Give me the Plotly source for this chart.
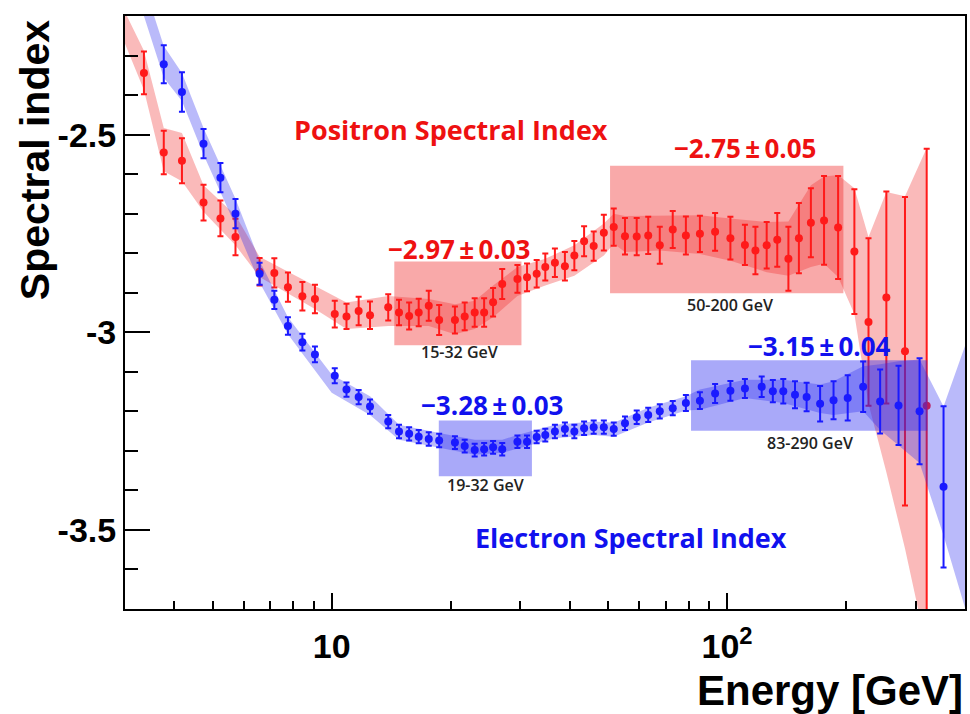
import numpy as np
import plotly.graph_objects as go

# ---------------- positron spectral index ----------------
pos_E = [3.35, 3.76, 4.18, 4.74, 5.23, 5.71, 6.57, 7.16, 7.75, 8.43, 9.07, 10.18,
         10.9, 11.7, 12.5, 13.9, 14.8, 15.7, 16.6, 17.6, 18.7, 20.5, 21.7, 23.0,
         24.3, 25.6, 27.0, 29.5, 31.2, 33.0, 34.7, 36.7, 38.9, 41.1, 43.5, 46.0,
         48.8, 51.7, 55.2, 59.1, 63.2, 67.6, 72.9, 78.7, 85.4, 93.3, 102, 111,
         118, 126, 134, 143, 152, 163, 176, 191, 210, 228, 253, 282, 320]
pos_idx = [-2.344, -2.545, -2.566, -2.672, -2.712, -2.759, -2.847, -2.850, -2.886,
           -2.909, -2.916, -2.954, -2.960, -2.946, -2.957, -2.937, -2.950, -2.959,
           -2.950, -2.933, -2.969, -2.969, -2.960, -2.950, -2.950, -2.924, -2.878,
           -2.865, -2.861, -2.852, -2.835, -2.824, -2.833, -2.806, -2.770, -2.782,
           -2.748, -2.734, -2.757, -2.758, -2.755, -2.780, -2.740, -2.755, -2.751,
           -2.746, -2.762, -2.779, -2.793, -2.780, -2.766, -2.814, -2.762, -2.723,
           -2.717, -2.735, -2.796, -2.974, -2.912, -3.048, -3.186]
pos_err = [0.054, 0.055, 0.057, 0.045, 0.045, 0.046, 0.035, 0.037, 0.037, 0.036,
           0.036, 0.034, 0.032, 0.036, 0.035, 0.033, 0.032, 0.034, 0.035, 0.038,
           0.038, 0.034, 0.035, 0.036, 0.036, 0.036, 0.038, 0.035, 0.035, 0.035,
           0.034, 0.036, 0.036, 0.037, 0.038, 0.037, 0.045, 0.047, 0.046, 0.047,
           0.047, 0.047, 0.047, 0.048, 0.046, 0.048, 0.054, 0.051, 0.060, 0.059,
           0.068, 0.081, 0.089, 0.087, 0.112, 0.130, 0.158, 0.212, 0.268, 0.390,
           0.650]

# uncertainty band of the positron index
pos_band_E = [3.0, 3.35, 3.76, 4.18, 4.74, 5.71, 6.57, 9.07, 10.9, 13.9, 17.6, 20.5,
              23.0, 25.6, 29.5, 34.7, 41.1, 48.8, 51.7, 55.2, 67.6, 85.4, 102, 126,
              143, 163, 176, 191, 210, 228, 253, 282, 320]
pos_band_lo = [-2.27, -2.387, -2.593, -2.618, -2.695, -2.780, -2.860, -2.941, -2.992,
               -2.984, -2.984, -3.005, -2.992, -2.962, -2.908, -2.882, -2.857, -2.806,
               -2.776, -2.797, -2.793, -2.802, -2.819, -2.848, -2.857, -2.835, -2.827,
               -2.860, -2.954, -3.181, -3.354, -3.547, -3.800]
pos_band_hi = [-2.19, -2.288, -2.483, -2.496, -2.628, -2.704, -2.809, -2.882, -2.925,
               -2.908, -2.916, -2.929, -2.920, -2.882, -2.835, -2.814, -2.780, -2.725,
               -2.700, -2.706, -2.705, -2.704, -2.712, -2.721, -2.720, -2.628, -2.606,
               -2.602, -2.636, -2.759, -2.645, -2.656, -2.534]

# ---------------- electron spectral index ----------------
ele_E = [3.76, 4.18, 4.74, 5.23, 5.71, 6.57, 7.16, 7.75, 8.43, 9.07, 10.18, 10.9,
         11.7, 12.5, 13.9, 14.8, 15.7, 16.6, 17.6, 18.7, 20.5, 21.7, 23.0, 24.3,
         25.6, 27.0, 29.5, 31.2, 33.0, 34.7, 36.7, 38.9, 41.1, 43.5, 46.0, 48.8,
         51.7, 55.2, 59.1, 63.2, 67.6, 72.9, 78.7, 85.4, 93.3, 102, 111, 122.4,
         130.6, 138.8, 148.6, 159, 172, 186, 202, 221, 244, 271.6, 307, 353]
ele_idx = [-2.322, -2.392, -2.523, -2.609, -2.700, -2.852, -2.918, -2.984, -3.025,
           -3.056, -3.110, -3.145, -3.164, -3.188, -3.226, -3.251, -3.257, -3.264,
           -3.270, -3.274, -3.279, -3.288, -3.298, -3.296, -3.291, -3.296, -3.277,
           -3.277, -3.265, -3.260, -3.251, -3.245, -3.251, -3.243, -3.240, -3.240,
           -3.245, -3.230, -3.215, -3.209, -3.200, -3.192, -3.179, -3.173, -3.155,
           -3.148, -3.142, -3.138, -3.149, -3.149, -3.158, -3.164, -3.181, -3.172,
           -3.166, -3.138, -3.175, -3.185, -3.200, -3.391]
ele_err = [0.048, 0.050, 0.037, 0.037, 0.037, 0.028, 0.023, 0.022, 0.021, 0.020,
           0.019, 0.018, 0.018, 0.018, 0.017, 0.017, 0.017, 0.017, 0.017, 0.017,
           0.016, 0.016, 0.016, 0.016, 0.016, 0.016, 0.016, 0.016, 0.016, 0.016,
           0.017, 0.017, 0.017, 0.017, 0.017, 0.017, 0.017, 0.017, 0.017, 0.018,
           0.018, 0.018, 0.020, 0.021, 0.024, 0.025, 0.024, 0.026, 0.028, 0.031,
           0.034, 0.036, 0.045, 0.048, 0.057, 0.064, 0.081, 0.100, 0.134, 0.204]

# uncertainty band of the electron index
ele_band_E = [3.35, 3.76, 4.18, 4.74, 5.71, 6.57, 7.75, 10.0, 12.5, 14.8, 18.7, 23.0,
              27.0, 29.5, 36.7, 46.0, 51.7, 63.2, 78.7, 85.4, 111, 138.8, 172, 186,
              221, 244, 271.6, 307, 353, 400]
ele_band_lo = [-2.20, -2.356, -2.415, -2.551, -2.730, -2.874, -3.005, -3.153, -3.209,
               -3.272, -3.293, -3.310, -3.305, -3.293, -3.268, -3.260, -3.264, -3.228,
               -3.198, -3.196, -3.166, -3.179, -3.204, -3.209, -3.200, -3.247, -3.285,
               -3.331, -3.514, -3.697]
ele_band_hi = [-2.12, -2.276, -2.344, -2.483, -2.662, -2.819, -2.962, -3.107, -3.162,
               -3.234, -3.255, -3.272, -3.272, -3.260, -3.234, -3.226, -3.229, -3.191,
               -3.162, -3.145, -3.120, -3.120, -3.132, -3.124, -3.086, -3.081, -3.073,
               -3.069, -3.188, -3.035]

# fitted energy ranges: (E_lo, E_hi, index_lo, index_hi)
pos_boxes = [(14.4, 30.2, -3.033, -2.821), (50.6, 197.0, -2.9015, -2.579)]
ele_boxes = [(18.66, 32.1, -3.364, -3.223), (81.1, 321.0, -3.249, -3.071)]

# fit results and range labels: (text, E, index)
pos_fit_labels = [("\u22122.97\u2009\u00b1\u20090.03", 21.0, -2.789),
                  ("\u22122.75\u2009\u00b1\u20090.05", 110.9, -2.534)]
ele_fit_labels = [("\u22123.28\u2009\u00b1\u20090.03", 25.5, -3.183),
                  ("\u22123.15\u2009\u00b1\u20090.04", 171.3, -3.034)]
range_labels = [("15-32 GeV", 21.0, -3.051), ("50-200 GeV", 102.0, -2.931),
                ("19-32 GeV", 24.5, -3.387), ("83-290 GeV", 161.8, -3.281)]

RED = "#ff1a1a"
BLUE = "#1a1aff"

fig = go.Figure()


def add_series(E, idx, err, bE, blo, bhi, boxes, color, band_rgba, box_rgba):
    # shaded band
    fig.add_trace(go.Scatter(
        x=list(bE) + list(bE)[::-1], y=list(bhi) + list(blo)[::-1],
        mode="lines", fill="toself", fillcolor=band_rgba,
        line=dict(width=0), hoverinfo="skip"))
    # fit-range boxes
    for e0, e1, y0, y1 in boxes:
        fig.add_trace(go.Scatter(
            x=[e0, e1, e1, e0, e0], y=[y0, y0, y1, y1, y0],
            mode="lines", fill="toself", fillcolor=box_rgba,
            line=dict(width=0), hoverinfo="skip"))
    # measured points
    fig.add_trace(go.Scatter(
        x=E, y=idx, mode="markers",
        marker=dict(color=color, size=8),
        error_y=dict(type="data", array=err, color=color, thickness=2, width=3)))


add_series(pos_E, pos_idx, pos_err, pos_band_E, pos_band_lo, pos_band_hi,
           pos_boxes, RED, "rgba(240,40,40,0.32)", "rgba(240,40,40,0.40)")
add_series(ele_E, ele_idx, ele_err, ele_band_E, ele_band_lo, ele_band_hi,
           ele_boxes, BLUE, "rgba(40,40,240,0.32)", "rgba(40,40,240,0.40)")

label_font = "Open Sans"
ann = []
ann.append(dict(x=np.log10(20.0), y=-2.486, xref="x", yref="y",
                text="Positron Spectral Index", showarrow=False,
                font=dict(family=label_font, size=27, color="#ee1111", weight="bold")))
ann.append(dict(x=np.log10(57.3), y=-3.519, xref="x", yref="y",
                text="Electron Spectral Index", showarrow=False,
                font=dict(family=label_font, size=27, color="#1111ee", weight="bold")))
for t, e, v in pos_fit_labels:
    ann.append(dict(x=np.log10(e), y=v, xref="x", yref="y", text=t, showarrow=False,
                    font=dict(family=label_font, size=26, color="#ee1111", weight="bold")))
for t, e, v in ele_fit_labels:
    ann.append(dict(x=np.log10(e), y=v, xref="x", yref="y", text=t, showarrow=False,
                    font=dict(family=label_font, size=26, color="#1111ee", weight="bold")))
for t, e, v in range_labels:
    ann.append(dict(x=np.log10(e), y=v, xref="x", yref="y", text=t, showarrow=False,
                    font=dict(family=label_font, size=16, color="#222222", weight=600)))

# axis titles
ann.append(dict(x=-0.107, y=0.757, xref="paper", yref="paper", text="Spectral index",
                textangle=-90, showarrow=False, xanchor="center", yanchor="middle",
                font=dict(family="Liberation Sans", size=41, color="black", weight="bold")))
ann.append(dict(x=1.0, y=-0.137, xref="paper", yref="paper", text="Energy [GeV]",
                showarrow=False, xanchor="right", yanchor="middle",
                font=dict(family="Liberation Sans", size=42, color="black", weight="bold")))

x_minor = [4, 5, 6, 7, 8, 9, 20, 30, 40, 50, 60, 70, 80, 90, 200, 300, 400]
y_minor = [-3.6, -3.4, -3.3, -3.2, -3.1, -2.9, -2.8, -2.7, -2.6, -2.4, -2.3, -2.2]

fig.update_layout(
    width=970, height=714,
    margin=dict(l=125, r=5, t=16, b=105),
    plot_bgcolor="white", paper_bgcolor="white",
    showlegend=False,
    annotations=ann,
    xaxis=dict(
        type="log", range=[np.log10(3), np.log10(400)],
        tickmode="array", tickvals=[10, 100], ticktext=["10", "10<sup>2</sup>"],
        ticks="inside", ticklen=16, tickwidth=1.5, tickcolor="black",
        showline=True, linewidth=2, linecolor="black", mirror=True,
        showgrid=False, zeroline=False, automargin=False,
        ticklabelstandoff=6,
        tickfont=dict(family="Liberation Sans", size=34, color="black", weight="bold"),
        minor=dict(tickmode="array", tickvals=x_minor, ticks="inside", ticklen=8,
                   tickwidth=1.5, tickcolor="black", showgrid=False),
    ),
    yaxis=dict(
        range=[-3.7, -2.2],
        tickmode="array", tickvals=[-3.5, -3.0, -2.5], ticktext=["-3.5", "-3", "-2.5"],
        ticks="inside", ticklen=25, tickwidth=1.5, tickcolor="black",
        showline=True, linewidth=2, linecolor="black", mirror=True,
        showgrid=False, zeroline=False, automargin=False,
        tickfont=dict(family="Liberation Sans", size=34, color="black", weight="bold"),
        minor=dict(tickmode="array", tickvals=y_minor, ticks="inside", ticklen=13,
                   tickwidth=1.5, tickcolor="black", showgrid=False),
    ),
)

fig.write_html("out.html")
